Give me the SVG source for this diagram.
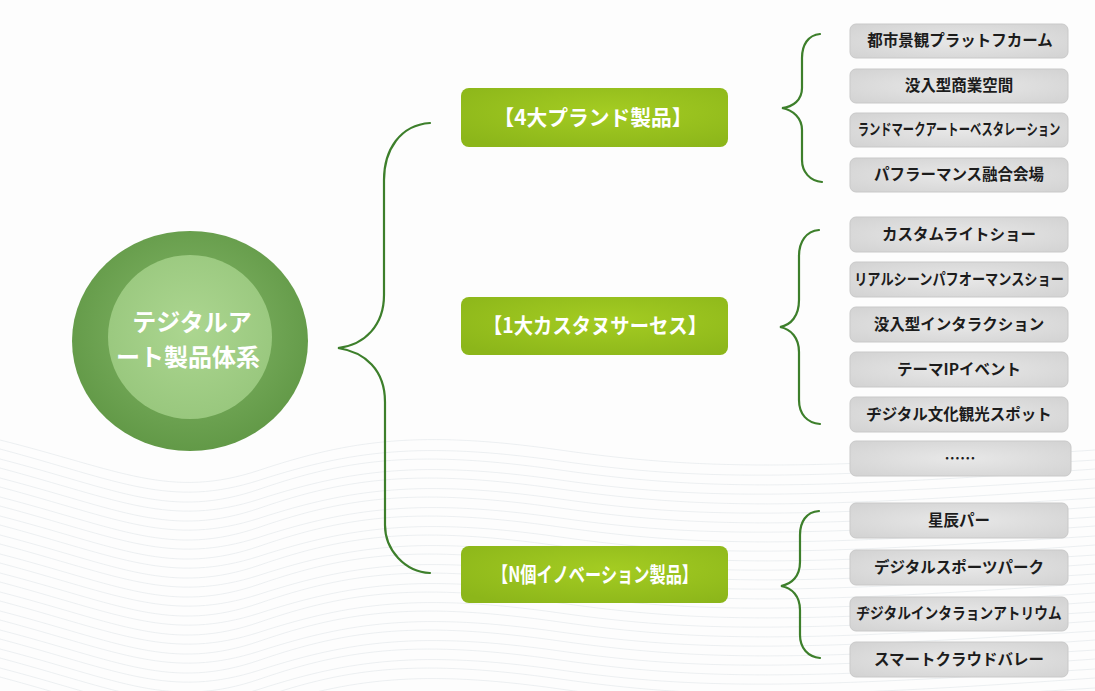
<svg xmlns="http://www.w3.org/2000/svg" width="1095" height="691" viewBox="0 0 1095 691">
<defs>
<radialGradient id="gOuter" cx="50%" cy="45%" r="55%">
<stop offset="0%" stop-color="#86b86a"/><stop offset="100%" stop-color="#629947"/>
</radialGradient>
<radialGradient id="gInner" cx="50%" cy="45%" r="60%">
<stop offset="0%" stop-color="#acd690"/><stop offset="100%" stop-color="#97c67c"/>
</radialGradient>
<radialGradient id="gGreen" cx="55%" cy="40%" r="70%">
<stop offset="0%" stop-color="#a4cc22"/><stop offset="100%" stop-color="#8cb61a"/>
</radialGradient>
<radialGradient id="gGray" cx="50%" cy="50%" r="70%">
<stop offset="0%" stop-color="#e8e8e8"/><stop offset="100%" stop-color="#d2d2d2"/>
</radialGradient>
</defs>
<style>
.bg{fill:#fdfdfd}
.wave{fill:none;stroke:#e3e7eb;stroke-width:0.8;opacity:0.8}
.brace{fill:none;stroke:#3d7f2b;stroke-width:2.2;stroke-linecap:round}
.gbox{fill:url(#gGreen)}
.gtxt{font-family:"Noto Sans CJK JP","Noto Sans CJK SC",sans-serif;font-weight:700;font-size:21px;fill:#ffffff;text-anchor:middle}
.ibox{fill:url(#gGray);stroke:#c9c9c9;stroke-width:1}
.itxt{font-family:"Noto Sans CJK JP","Noto Sans CJK SC",sans-serif;font-weight:700;font-size:15.5px;fill:#1c1c1c;text-anchor:middle}
.ctxt{font-family:"Noto Sans CJK JP","Noto Sans CJK SC",sans-serif;font-weight:700;font-size:24px;fill:#ffffff;text-anchor:middle}
</style>
<rect class="bg" x="0" y="0" width="1095" height="691"/>
<g id="background-waves">
<path class="wave" d="M0,440 C120,470 170,500 260,470 S420,430 560,450 S800,470 1095,450"/>
<path class="wave" d="M0,449 C120,481 170,509 260,480 S420,441 560,461 S800,479 1095,460"/>
<path class="wave" d="M0,459 C120,490 170,520 260,489 S420,450 560,470 S800,490 1095,469"/>
<path class="wave" d="M0,468 C120,500 170,528 260,499 S420,460 560,480 S800,498 1095,479"/>
<path class="wave" d="M0,478 C120,509 170,539 260,508 S420,469 560,489 S800,509 1095,488"/>
<path class="wave" d="M0,487 C120,519 170,547 260,518 S420,479 560,499 S800,517 1095,498"/>
<path class="wave" d="M0,497 C120,528 170,558 260,527 S420,488 560,508 S800,528 1095,507"/>
<path class="wave" d="M0,506 C120,538 170,566 260,537 S420,498 560,518 S800,536 1095,517"/>
<path class="wave" d="M0,516 C120,547 170,577 260,546 S420,507 560,527 S800,547 1095,526"/>
<path class="wave" d="M0,525 C120,557 170,585 260,556 S420,517 560,537 S800,555 1095,536"/>
<path class="wave" d="M0,535 C120,566 170,596 260,565 S420,526 560,546 S800,566 1095,545"/>
<path class="wave" d="M0,544 C120,576 170,604 260,575 S420,536 560,556 S800,574 1095,555"/>
<path class="wave" d="M0,554 C120,585 170,615 260,584 S420,545 560,565 S800,585 1095,564"/>
<path class="wave" d="M0,563 C120,595 170,623 260,594 S420,555 560,575 S800,593 1095,574"/>
<path class="wave" d="M0,573 C120,604 170,634 260,603 S420,564 560,584 S800,604 1095,583"/>
<path class="wave" d="M0,582 C120,614 170,642 260,613 S420,574 560,594 S800,612 1095,593"/>
<path class="wave" d="M0,592 C120,623 170,653 260,622 S420,583 560,603 S800,623 1095,602"/>
<path class="wave" d="M0,601 C120,633 170,661 260,632 S420,593 560,613 S800,631 1095,612"/>
<path class="wave" d="M0,611 C120,642 170,672 260,641 S420,602 560,622 S800,642 1095,621"/>
<path class="wave" d="M0,620 C120,652 170,680 260,651 S420,612 560,632 S800,650 1095,631"/>
<path class="wave" d="M0,630 C120,661 170,691 260,660 S420,621 560,641 S800,661 1095,640"/>
<path class="wave" d="M0,639 C120,671 170,699 260,670 S420,631 560,651 S800,669 1095,650"/>
<path class="wave" d="M0,649 C120,680 170,710 260,679 S420,640 560,660 S800,680 1095,659"/>
<path class="wave" d="M0,658 C120,690 170,718 260,689 S420,650 560,670 S800,688 1095,669"/>
<path class="wave" d="M0,668 C120,699 170,729 260,698 S420,659 560,679 S800,699 1095,678"/>
<path class="wave" d="M0,677 C120,709 170,737 260,708 S420,669 560,689 S800,707 1095,688"/>
</g>
<g id="connectors">
<path class="brace" d="M430,123 C400,125 384,150 384,180 L384,295 C384,325 365,345 338,348 C365,352 385,370 385,402 L385,525 C385,550 405,572 430,573"/>
<path class="brace" d="M820,34 C808,35 802,45 802,58 L802,88 C802,100 793,107 782,108 C793,110 802,118 802,130 L802,160 C802,172 810,181 822,182"/>
<path class="brace" d="M819,230 C806,231 799,242 799,256 L799,300 C799,316 791,325 780,327 C791,329 799,338 799,352 L799,400 C799,414 807,423 820,424"/>
<path class="brace" d="M819,511 C806,512 800,522 800,535 L800,562 C800,576 792,584 781,586 C792,588 800,596 800,610 L800,635 C800,648 808,657 820,658"/>
</g>
<g id="root">
<ellipse cx="190" cy="341" rx="118" ry="110" fill="url(#gOuter)"/>
<circle cx="190" cy="337" r="82" fill="url(#gInner)"/>
<text class="ctxt" x="192" y="331">テジタルア</text>
<text class="ctxt" x="188" y="366">ート製品体系</text>
</g>
<g id="cat1">
<rect class="gbox" x="461" y="88" width="267" height="59" rx="8"/>
<text class="gtxt" x="593" y="125" textLength="199" lengthAdjust="spacingAndGlyphs">【4大プランド製品】</text>
</g>
<g id="cat2">
<rect class="gbox" x="461" y="297" width="267" height="58" rx="8"/>
<text class="gtxt" x="595" y="333" textLength="224" lengthAdjust="spacingAndGlyphs">【1大カスタヌサーセス】</text>
</g>
<g id="cat3">
<rect class="gbox" x="461" y="546" width="267" height="57" rx="8"/>
<text class="gtxt" x="595" y="582" textLength="206" lengthAdjust="spacingAndGlyphs">【N個イノベーション製品】</text>
</g>
<g id="item1-1"><rect class="ibox" x="850" y="24" width="218" height="34" rx="6"/><text class="itxt" x="960" y="46">都市景観プラットフカーム</text></g>
<g id="item1-2"><rect class="ibox" x="850" y="69" width="218" height="34" rx="6"/><text class="itxt" x="959" y="91">没入型商業空間</text></g>
<g id="item1-3"><rect class="ibox" x="850" y="113" width="218" height="34" rx="6"/><text class="itxt" transform="translate(959,135) scale(0.73,1)" x="0" y="0">ランドマークアートーベスタレーション</text></g>
<g id="item1-4"><rect class="ibox" x="850" y="158" width="218" height="34" rx="6"/><text class="itxt" x="959" y="180">パフラーマンス融合会場</text></g>
<g id="item2-1"><rect class="ibox" x="850" y="217" width="218" height="35" rx="6"/><text class="itxt" x="959" y="240">カスタムライトショー</text></g>
<g id="item2-2"><rect class="ibox" x="850" y="262" width="218" height="35" rx="6"/><text class="itxt" transform="translate(959,285) scale(0.85,1)" x="0" y="0">リアルシーンパフオーマンスショー</text></g>
<g id="item2-3"><rect class="ibox" x="850" y="307" width="218" height="35" rx="6"/><text class="itxt" x="959" y="330">没入型インタラクション</text></g>
<g id="item2-4"><rect class="ibox" x="850" y="352" width="218" height="35" rx="6"/><text class="itxt" x="959" y="375">テーマIPイベント</text></g>
<g id="item2-5"><rect class="ibox" x="850" y="397" width="218" height="35" rx="6"/><text class="itxt" x="959" y="420">ヂジタル文化観光スポット</text></g>
<g id="item2-6"><rect class="ibox" x="850" y="441" width="221" height="35" rx="6"/><text class="itxt" x="960" y="464">……</text></g>
<g id="item3-1"><rect class="ibox" x="850" y="503" width="218" height="35" rx="6"/><text class="itxt" x="959" y="526">星辰パー</text></g>
<g id="item3-2"><rect class="ibox" x="850" y="550" width="218" height="35" rx="6"/><text class="itxt" x="959" y="573">デジタルスポーツパーク</text></g>
<g id="item3-3"><rect class="ibox" x="850" y="597" width="218" height="34" rx="6"/><text class="itxt" transform="translate(959,619) scale(0.886,1)" x="0" y="0">ヂジタルインタラョンアトリウム</text></g>
<g id="item3-4"><rect class="ibox" x="850" y="642" width="218" height="35" rx="6"/><text class="itxt" x="959" y="665">スマートクラウドバレー</text></g>
</svg>
